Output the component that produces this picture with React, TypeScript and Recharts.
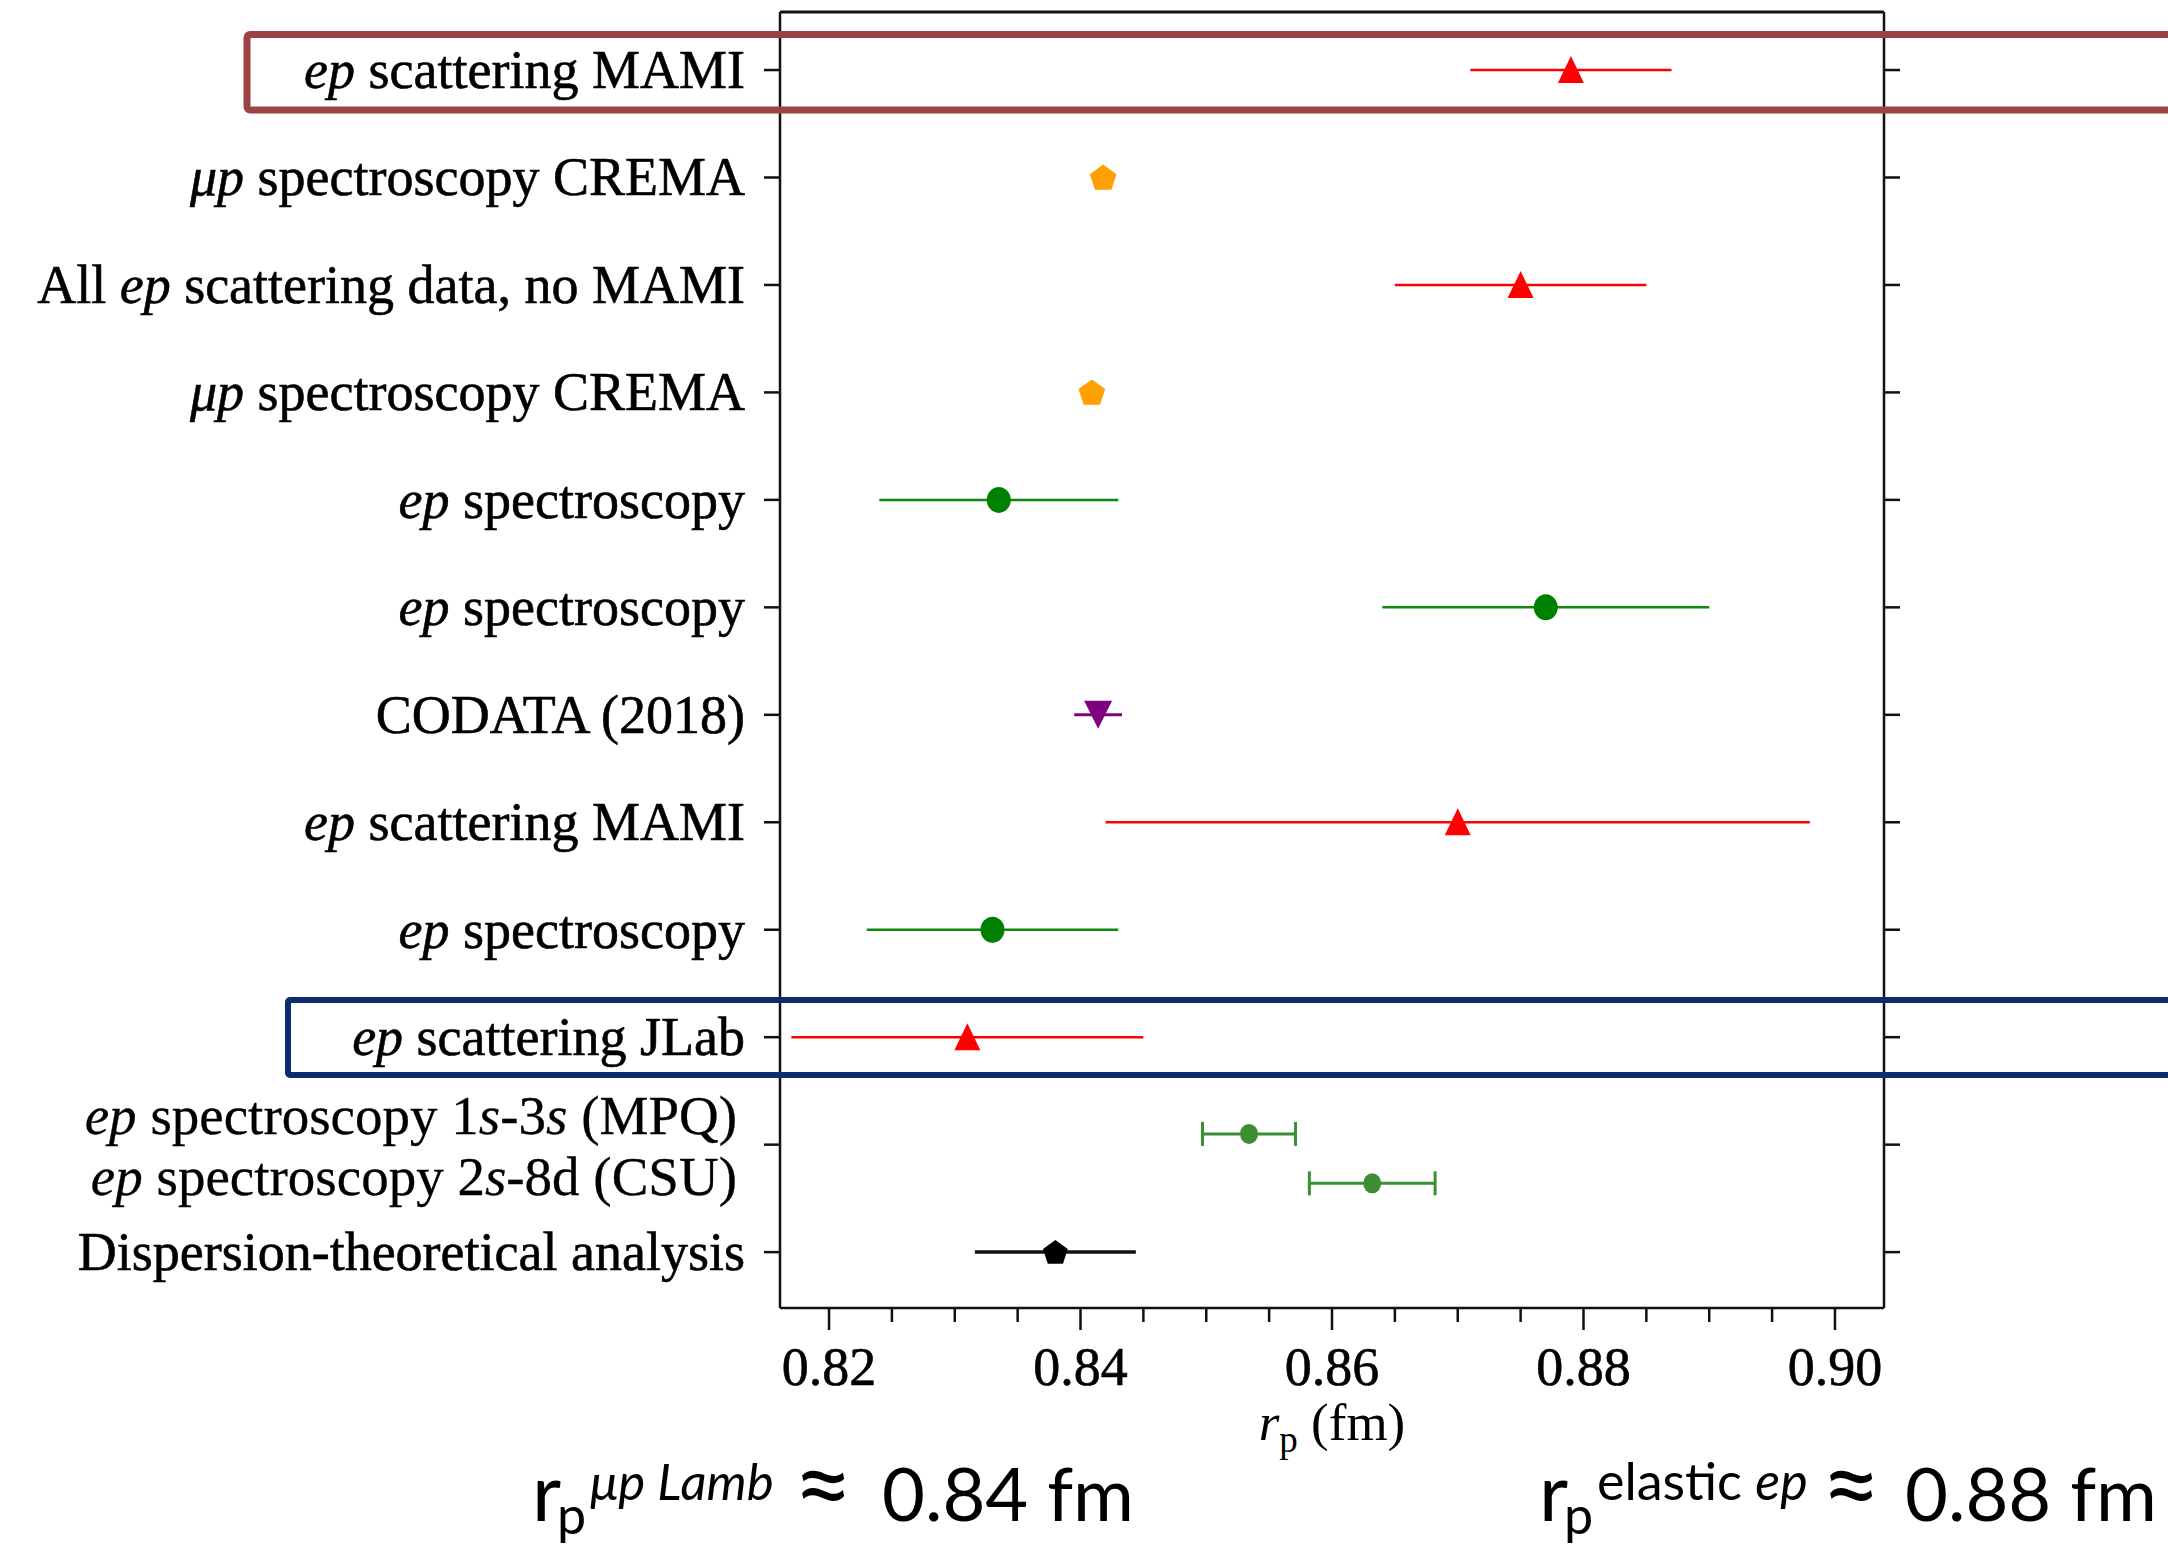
import { ErrorBar, Label, ReferenceLine, Scatter, ScatterChart, XAxis, YAxis } from 'recharts';

// Proton charge radius measurements, top to bottom.
const MEASUREMENTS = [
  'ep scattering MAMI',
  'μp spectroscopy CREMA',
  'All ep scattering data, no MAMI',
  'μp spectroscopy CREMA',
  'ep spectroscopy',
  'ep spectroscopy',
  'CODATA (2018)',
  'ep scattering MAMI',
  'ep spectroscopy',
  'ep scattering JLab',
  'ep spectroscopy 1s-3s (MPQ)',
  'ep spectroscopy 2s-8d (CSU)',
  'Dispersion-theoretical analysis',
];
const RADIUS_FM = [0.879, 0.8418, 0.875, 0.8409, 0.8335, 0.877, 0.8414, 0.87, 0.833, 0.831, 0.8534, 0.8632, 0.838];
const UNCERTAINTY_FM = [0.008, 0.0007, 0.01, 0.0004, 0.0095, 0.013, 0.0019, 0.028, 0.01, 0.014, 0.0037, 0.005, 0.0064];
const ROW_POSITION = [0, 1, 2, 3, 4, 5, 6, 7, 8, 9, 9.9, 10.36, 11];
const KIND = [
  'scattering',
  'muonic',
  'scattering',
  'muonic',
  'spectroscopy',
  'spectroscopy',
  'codata',
  'scattering',
  'spectroscopy',
  'scattering',
  'recent',
  'recent',
  'dispersion',
];

// Row tick labels; "_" toggles italics, "|" splits the shared row into two lines.
const ROW_TICKS = [0, 1, 2, 3, 4, 5, 6, 7, 8, 9, 10, 11];
const ROW_LABELS = [
  '_ep_ scattering MAMI',
  '_μp_ spectroscopy CREMA',
  'All _ep_ scattering data, no MAMI',
  '_μp_ spectroscopy CREMA',
  '_ep_ spectroscopy',
  '_ep_ spectroscopy',
  'CODATA (2018)',
  '_ep_ scattering MAMI',
  '_ep_ spectroscopy',
  '_ep_ scattering JLab',
  '_ep_ spectroscopy 1_s_-3_s_ (MPQ)|_ep_ spectroscopy 2_s_-8d (CSU)',
  'Dispersion-theoretical analysis',
];
const X_TICKS = [
  0.82, 0.825, 0.83, 0.835, 0.84, 0.845, 0.85, 0.855, 0.86, 0.865, 0.87, 0.875, 0.88, 0.885, 0.89, 0.895, 0.9,
];
const X_DOMAIN = [0.8161, 0.9039];
const Y_DOMAIN = [-0.54, 11.52];

const SERIF = '"Liberation Serif", "Times New Roman", serif';
const SANS = 'Lato, "Open Sans", sans-serif';
const AXIS = '#111';

const points = MEASUREMENTS.map((name, i) => ({
  name,
  r: RADIUS_FM[i],
  err: UNCERTAINTY_FM[i],
  row: ROW_POSITION[i],
  kind: KIND[i],
}));
const seriesOf = (kind: string) => points.filter((p) => p.kind === kind);

const polygon = (cx: number, cy: number, rad: number, n: number, rot: number) =>
  Array.from({ length: n }, (_, k) => {
    const a = rot + (k * 2 * Math.PI) / n;
    return `${cx + rad * Math.cos(a)},${cy + rad * Math.sin(a)}`;
  }).join(' ');

const TriangleUp = (fill: string) => (p: any) => (
  <path d={`M${p.cx},${p.cy - 14} L${p.cx + 13},${p.cy + 13} L${p.cx - 13},${p.cy + 13} Z`} fill={fill} />
);
const TriangleDown = (fill: string) => (p: any) => (
  <path d={`M${p.cx - 14},${p.cy - 14} L${p.cx + 14},${p.cy - 14} L${p.cx},${p.cy + 14} Z`} fill={fill} />
);
const Pentagon = (fill: string, rad: number) => (p: any) => (
  <polygon points={polygon(p.cx, p.cy + 1, rad, 5, -Math.PI / 2)} fill={fill} />
);
const Dot = (fill: string, rad: number) => (p: any) => <ellipse cx={p.cx} cy={p.cy} rx={rad} ry={rad + 1} fill={fill} />;

const renderLabelParts = (s: string) =>
  s.split('_').map((part, i) => (
    <tspan key={i} fontStyle={i % 2 === 1 ? 'italic' : 'normal'}>
      {part}
    </tspan>
  ));

const RowTick = (props: any) => {
  const { x, y, payload } = props;
  const label = ROW_LABELS[payload.index ?? ROW_TICKS.indexOf(payload.value)] ?? ROW_LABELS[payload.value];
  const lines = label.split('|');
  return (
    <g>
      <line x1={x - 16} x2={x} y1={y} y2={y} stroke={AXIS} strokeWidth={2.5} />
      {lines.length === 1 ? (
        <text
          x={x - 35}
          y={y + 18}
          textAnchor="end"
          fontFamily={SERIF}
          fontSize={54}
          fill="#000"
          stroke="#000"
          strokeWidth={0.6}
        >
          {renderLabelParts(lines[0])}
        </text>
      ) : (
        lines.map((ln, i) => (
          <text
            key={i}
            x={x - 43}
            y={y - 11 + i * 61}
            textAnchor="end"
            fontFamily={SERIF}
            fontSize={55}
            fill="#000"
            stroke="#000"
            strokeWidth={0.3}
          >
            {renderLabelParts(ln)}
          </text>
        ))
      )}
    </g>
  );
};

const RightTick = (props: any) => {
  const { x, y } = props;
  return <line x1={x} x2={x + 16} y1={y} y2={y} stroke={AXIS} strokeWidth={2.5} />;
};

const XTick = (props: any) => {
  const { x, y, payload } = props;
  const major = Math.round(payload.value * 1000) % 20 === 0;
  return (
    <g>
      <line x1={x} x2={x} y1={y} y2={y + (major ? 22 : 14)} stroke={AXIS} strokeWidth={2.5} />
      {major && (
        <text
          x={x}
          y={y + 77}
          textAnchor="middle"
          fontFamily={SERIF}
          fontSize={54}
          fill="#000"
          stroke="#000"
          strokeWidth={0.6}
        >
          {payload.value.toFixed(2)}
        </text>
      )}
    </g>
  );
};

const renderAxisTitle = (props: any) => {
  const vb = props.viewBox ?? { x: 780, y: 1308, width: 1104 };
  return (
    <text x={vb.x + vb.width / 2} y={vb.y + 132} textAnchor="middle" fontFamily={SERIF} fontSize={53} fill="#000">
      <tspan fontStyle="italic">r</tspan>
      <tspan fontSize={37} dy={12}>
        p
      </tspan>
      <tspan dy={-12}> (fm)</tspan>
    </text>
  );
};

export default function App() {
  return (
    <div style={{ position: 'absolute', left: 0, top: 0, width: 2168, height: 1545, background: '#fff' }}>
      <ScatterChart width={2168} height={1545} margin={{ top: 12, right: 244, bottom: 87, left: 0 }}>
        <XAxis
          type="number"
          dataKey="r"
          domain={X_DOMAIN}
          ticks={X_TICKS}
          interval={0}
          allowDataOverflow
          height={150}
          tickSize={0}
          tickMargin={0}
          tickLine={false}
          axisLine={{ stroke: AXIS, strokeWidth: 2.5 }}
          tick={<XTick />}
        >
          <Label content={renderAxisTitle} />
        </XAxis>
        <YAxis
          yAxisId="left"
          type="number"
          dataKey="row"
          domain={Y_DOMAIN}
          ticks={ROW_TICKS}
          interval={0}
          reversed
          allowDataOverflow
          width={780}
          tickSize={0}
          tickMargin={0}
          tickLine={false}
          axisLine={{ stroke: AXIS, strokeWidth: 2.5 }}
          tick={<RowTick />}
        />
        <YAxis
          yAxisId="right"
          orientation="right"
          type="number"
          dataKey="row"
          domain={Y_DOMAIN}
          ticks={ROW_TICKS}
          interval={0}
          reversed
          allowDataOverflow
          width={40}
          tickSize={0}
          tickMargin={0}
          tickLine={false}
          axisLine={{ stroke: AXIS, strokeWidth: 2.5 }}
          tick={<RightTick />}
        />
        <ReferenceLine yAxisId="left" y={Y_DOMAIN[0]} stroke={AXIS} strokeWidth={3} ifOverflow="visible" />

        <Scatter yAxisId="left" data={seriesOf('scattering')} shape={TriangleUp('#ff0000')} isAnimationActive={false}>
          <ErrorBar dataKey="err" direction="x" width={0} stroke="#ff0000" strokeWidth={2.5} isAnimationActive={false} />
        </Scatter>
        <Scatter yAxisId="left" data={seriesOf('muonic')} shape={Pentagon('#ffa000', 14)} isAnimationActive={false}>
          <ErrorBar dataKey="err" direction="x" width={0} stroke="#ffa000" strokeWidth={2.5} isAnimationActive={false} />
        </Scatter>
        <Scatter yAxisId="left" data={seriesOf('spectroscopy')} shape={Dot('#008000', 12)} isAnimationActive={false}>
          <ErrorBar dataKey="err" direction="x" width={0} stroke="#0a8a0a" strokeWidth={2.5} isAnimationActive={false} />
        </Scatter>
        <Scatter yAxisId="left" data={seriesOf('codata')} shape={TriangleDown('#800080')} isAnimationActive={false}>
          <ErrorBar dataKey="err" direction="x" width={0} stroke="#800080" strokeWidth={3} isAnimationActive={false} />
        </Scatter>
        <Scatter yAxisId="left" data={seriesOf('recent')} shape={Dot('#3b8e34', 9)} isAnimationActive={false}>
          <ErrorBar dataKey="err" direction="x" width={12} stroke="#3b8e34" strokeWidth={3} isAnimationActive={false} />
        </Scatter>
        <Scatter yAxisId="left" data={seriesOf('dispersion')} shape={Pentagon('#000', 13)} isAnimationActive={false}>
          <ErrorBar dataKey="err" direction="x" width={0} stroke="#111" strokeWidth={3.5} isAnimationActive={false} />
        </Scatter>
      </ScatterChart>

      <svg
        width={2168}
        height={1545}
        style={{ position: 'absolute', left: 0, top: 0, pointerEvents: 'none', overflow: 'hidden' }}
      >
        {/* highlight boxes */}
        <rect x={247} y={34.5} width={2000} height={75.5} rx={3} fill="none" stroke="#9b4242" strokeWidth={7} />
        <rect x={288} y={1000} width={2000} height={75} rx={2} fill="none" stroke="#0b2e73" strokeWidth={6} />

        <g fontFamily={SANS} fill="#000">
          {/* muonic Lamb shift annotation */}
          <text y={1521}>
            <tspan x={532} fontSize={80}>
              r
            </tspan>
            <tspan x={557} dy={13} fontSize={52}>
              p
            </tspan>
            <tspan x={590} dy={-34} fontSize={51} fontStyle="italic">
              μp Lamb
            </tspan>
          </text>
          <text x={793} y={1521} fontSize={104}>
            ≈
          </text>
          <text x={882} y={1521} fontSize={74}>
            0.84 fm
          </text>

          {/* elastic scattering annotation */}
          <text y={1521}>
            <tspan x={1539} fontSize={80}>
              r
            </tspan>
            <tspan x={1564} dy={13} fontSize={52}>
              p
            </tspan>
            <tspan x={1597} dy={-34} fontSize={52}>
              elastic{' '}
            </tspan>
            <tspan fontSize={52} fontStyle="italic">
              ep
            </tspan>
          </text>
          <text x={1821} y={1521} fontSize={104}>
            ≈
          </text>
          <text x={1905} y={1521} fontSize={74}>
            0.88 fm
          </text>
        </g>
      </svg>
    </div>
  );
}
